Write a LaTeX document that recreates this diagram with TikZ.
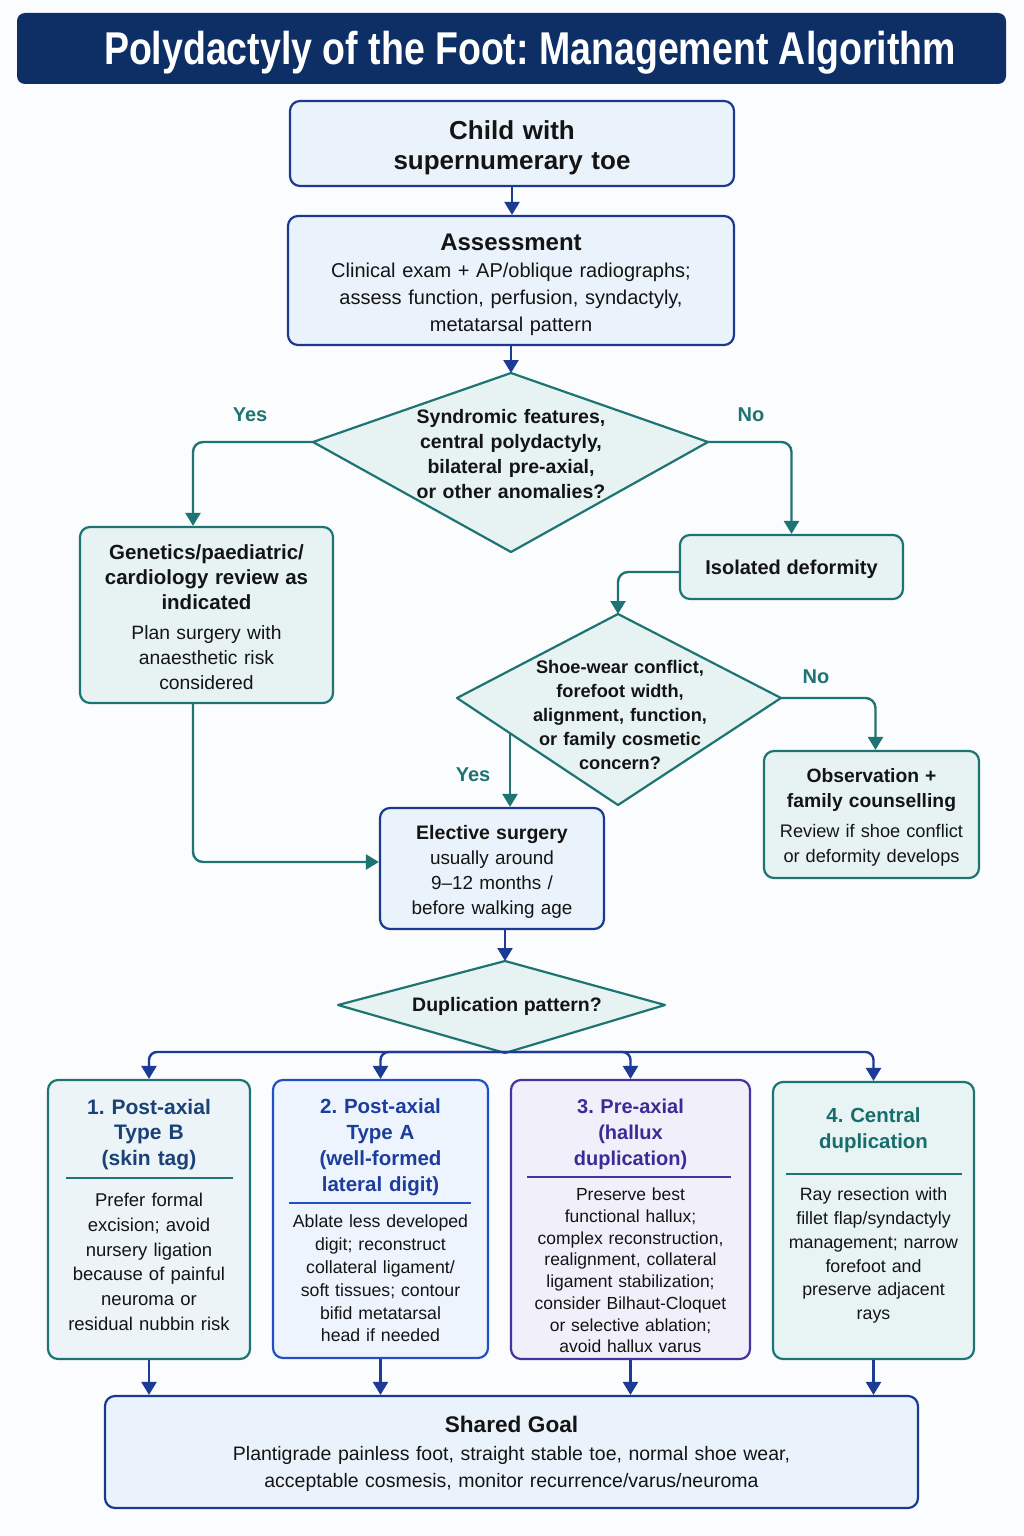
\documentclass[tikz,border=0pt]{standalone}
\usepackage{fontspec}
\setmainfont{Liberation Sans}
\newfontfamily\titlef[FakeStretch=0.815]{Liberation Sans Bold}
\usetikzlibrary{arrows.meta,calc}
\definecolor{bgc}{HTML}{FBFCFD}
\definecolor{navyt}{HTML}{0E2F66}
\definecolor{navyb}{HTML}{1B3A8F}
\definecolor{bluef}{HTML}{EAF3FC}
\definecolor{tealc}{HTML}{1E7472}
\definecolor{tealf}{HTML}{E6F3F2}
\definecolor{arrc}{HTML}{1C3B94}
\definecolor{txt}{HTML}{141414}
\definecolor{colAt}{HTML}{1B4276}
\definecolor{colAf}{HTML}{EDF4F8}
\definecolor{colBc}{HTML}{2150C4}
\definecolor{colBt}{HTML}{1C3D9C}
\definecolor{colBf}{HTML}{EDF4FD}
\definecolor{colCc}{HTML}{4A31A0}
\definecolor{colCt}{HTML}{3A2C96}
\definecolor{colCf}{HTML}{F1F0FA}
\definecolor{colDt}{HTML}{176C6C}
\definecolor{colDf}{HTML}{E8F4F3}
\newcommand\myfs[2]{\fontsize{#1}{#2}\selectfont}
\newcommand\dnx[1]{\rule{0pt}{\dimexpr 0.73em+#1\relax}}
\frenchspacing
\tikzset{
  box/.style={rounded corners=10pt, line width=2.2pt, inner sep=0pt, align=center, text=txt},
  bluebox/.style={box, draw=navyb, fill=bluef},
  tealbox/.style={box, draw=tealc, fill=tealf},
  diashape/.style={draw=tealc, fill=tealf, line width=2.2pt, line join=round},
  navyarr/.style={draw=arrc, line width=2.4pt, -{Triangle[width=15pt,length=13pt]}},
  tealarr/.style={draw=tealc, line width=2.4pt, rounded corners=10pt, -{Triangle[width=15pt,length=13pt]}},
  yn/.style={text=tealc, font=\bfseries\myfs{20}{24}},
  qtext/.style={text=txt, align=center, inner sep=0pt, execute at begin node=\frenchspacing},
}
\begin{document}
\begin{tikzpicture}[x=1pt,y=-1pt]
\fill[bgc] (0,0) rectangle (1024,1536);
\useasboundingbox (0,0) rectangle (1024,1536);

% title
\node[fill=navyt, rounded corners=8pt, minimum width=989pt, minimum height=71pt, text=white, font=\titlef\myfs{46}{50}] (title) at (511.5,48.5) {\hspace*{37pt}\dnx{8pt}Polydactyly of the Foot: Management Algorithm};

% top boxes
\node[bluebox, minimum width=444pt, minimum height=85pt, text width=430pt, font=\bfseries\myfs{26}{30}] (child) at (512,143.5) {\dnx{8pt}Child with\\supernumerary toe};
\node[bluebox, minimum width=446pt, minimum height=129pt, text width=430pt, font=\myfs{20}{27}] (assess) at (511,280.5) {{\bfseries\myfs{24}{27}\dnx{8pt}Assessment}\\Clinical exam + AP/oblique radiographs;\\assess function, perfusion, syndactyly,\\metatarsal pattern};

% decision 1
\coordinate (d1t) at (511,373);
\coordinate (d1r) at (708,442);
\coordinate (d1b) at (511,552);
\coordinate (d1l) at (313,442);
\draw[diashape] (d1t) -- (d1r) -- (d1b) -- (d1l) -- cycle;
\node[qtext, text width=240pt, font=\bfseries\myfs{19.5}{24.7}] (q1) at (511,454) {Syndromic features,\\central polydactyly,\\bilateral pre-axial,\\or other anomalies?};
\node[yn] (yes1) at (250,415) {Yes};
\node[yn] (no1) at (751,415) {No};

\node[tealbox, minimum width=253pt, minimum height=176pt, text width=240pt, font=\myfs{19.3}{25}] (gen) at (206.5,615) {{\bfseries\myfs{20.5}{25}\dnx{4pt}Genetics/paediatric/\\cardiology review as\\indicated}\\[5pt]Plan surgery with\\anaesthetic risk\\considered};
\node[tealbox, minimum width=223pt, minimum height=64pt, font=\bfseries\myfs{20}{24}] (iso) at (791.5,567) {\dnx{4pt}Isolated deformity};

% decision 2
\coordinate (d2t) at (618,614);
\coordinate (d2r) at (781,698);
\coordinate (d2b) at (618,805);
\coordinate (d2l) at (457,698);
\draw[diashape] (d2t) -- (d2r) -- (d2b) -- (d2l) -- cycle;
\node[qtext, text width=220pt, font=\bfseries\myfs{18.2}{24}] (q2) at (620,715) {Shoe-wear conflict,\\forefoot width,\\alignment, function,\\or family cosmetic\\concern?};
\node[yn] (no2) at (816,677) {No};
\node[yn] (yes2) at (473,775) {Yes};
\coordinate (d2y) at (510,733);

\node[tealbox, minimum width=215pt, minimum height=127pt, text width=205pt, font=\myfs{18.2}{25}] (obs) at (871.5,814.5) {{\bfseries\myfs{19.3}{25}\dnx{6pt}Observation +\\family counselling}\\[5pt]Review if shoe conflict\\or deformity develops};
\node[bluebox, minimum width=224pt, minimum height=121pt, text width=214pt, font=\myfs{18.9}{25}] (ele) at (492,868.5) {{\bfseries\myfs{19.5}{25}\dnx{6pt}Elective surgery}\\usually around\\9--12 months /\\before walking age};

% decision 3
\coordinate (d3t) at (505,961);
\coordinate (d3r) at (665,1005);
\coordinate (d3b) at (505,1053);
\coordinate (d3l) at (338,1005);
\draw[diashape] (d3t) -- (d3r) -- (d3b) -- (d3l) -- cycle;
\node[qtext, font=\bfseries\myfs{19.5}{24}] (q3) at (507,1006) {Duplication pattern?};
\coordinate (bus) at (505,1052);

% four pattern boxes
\node[box, draw=tealc, fill=colAf, minimum width=202pt, minimum height=279pt] (p1) at (149,1219.5) {};
\node[box, draw=colBc, fill=colBf, minimum width=215pt, minimum height=278pt] (p2) at (380.5,1219) {};
\node[box, draw=colCc, fill=colCf, minimum width=239pt, minimum height=279pt] (p3) at (630.5,1219.5) {};
\node[box, draw=tealc, fill=colDf, minimum width=201pt, minimum height=277pt] (p4) at (873.5,1220.5) {};

\node[qtext, text=colAt, text width=190pt, font=\bfseries\myfs{21}{25.7}] (p1h) at (149,1134.5) {1. Post-axial\\Type B\\(skin tag)};
\draw[tealc, line width=2pt] (66,1178) -- (233,1178);
\node[qtext, text width=195pt, font=\myfs{18.5}{24.7}] (p1b) at (149,1262) {Prefer formal\\excision; avoid\\nursery ligation\\because of painful\\neuroma or\\residual nubbin risk};

\node[qtext, text=colBt, text width=205pt, font=\bfseries\myfs{20.5}{26}] (p2h) at (380.5,1147) {2. Post-axial\\Type A\\(well-formed\\lateral digit)};
\draw[colBc, line width=2pt] (289,1203) -- (471,1203);
\node[qtext, text width=205pt, font=\myfs{17.7}{22.8}] (p2b) at (380.5,1278.5) {Ablate less developed\\digit; reconstruct\\collateral ligament/\\soft tissues; contour\\bifid metatarsal\\head if needed};

\node[qtext, text=colCt, text width=225pt, font=\bfseries\myfs{20}{26}] (p3h) at (630.5,1134) {3. Pre-axial\\(hallux\\duplication)};
\draw[colCc, line width=2pt] (527,1177) -- (731,1177);
\node[qtext, text width=230pt, font=\myfs{17.5}{21.7}] (p3b) at (630.5,1270.5) {Preserve best\\functional hallux;\\complex reconstruction,\\realignment, collateral\\ligament stabilization;\\consider Bilhaut-Cloquet\\or selective ablation;\\avoid hallux varus};

\node[qtext, text=colDt, text width=190pt, font=\bfseries\myfs{20.4}{26}] (p4h) at (873.5,1130) {4. Central\\duplication};
\draw[tealc, line width=2pt] (786,1174) -- (962,1174);
\node[qtext, text width=195pt, font=\myfs{17.8}{23.8}] (p4b) at (873.5,1255.5) {Ray resection with\\fillet flap/syndactyly\\management; narrow\\forefoot and\\preserve adjacent\\rays};

% goal
\node[bluebox, minimum width=813pt, minimum height=112pt, text width=800pt, font=\myfs{19.5}{27.5}] (goal) at (511.5,1452) {{\bfseries\myfs{22.6}{27.5}\dnx{4pt}Shared Goal}\\Plantigrade painless foot, straight stable toe, normal shoe wear,\\acceptable cosmesis, monitor recurrence/varus/neuroma};

% connectors
\draw[navyarr] (child.south) -- (child.south |- assess.north);
\draw[navyarr] (assess.south) -- (d1t);
\draw[tealarr] (d1l) -| ([xshift=-13.5pt]gen.north);
\draw[tealarr] (d1r) -| (iso.north);
\draw[tealarr] ([yshift=-5pt]iso.west) -| (d2t);
\draw[tealarr] (d2r) -| ([xshift=4pt]obs.north);
\draw[tealarr] (d2y) -- (d2y |- ele.north);
\draw[tealarr] ([xshift=-13.5pt]gen.south) |- ([yshift=6.5pt]ele.west);
\draw[navyarr] ([xshift=13pt]ele.south) -- (d3t);
\draw[navyarr, rounded corners=8pt] (bus) -| (p1.north);
\draw[navyarr, rounded corners=8pt] (bus) -| (p2.north);
\draw[navyarr, rounded corners=8pt] (bus) -| (p3.north);
\draw[navyarr, rounded corners=8pt] (bus) -| (p4.north);
\draw[navyarr] (p1.south) -- (p1.south |- goal.north);
\draw[navyarr] (p2.south) -- (p2.south |- goal.north);
\draw[navyarr] (p3.south) -- (p3.south |- goal.north);
\draw[navyarr] (p4.south) -- (p4.south |- goal.north);
\end{tikzpicture}
\end{document}
